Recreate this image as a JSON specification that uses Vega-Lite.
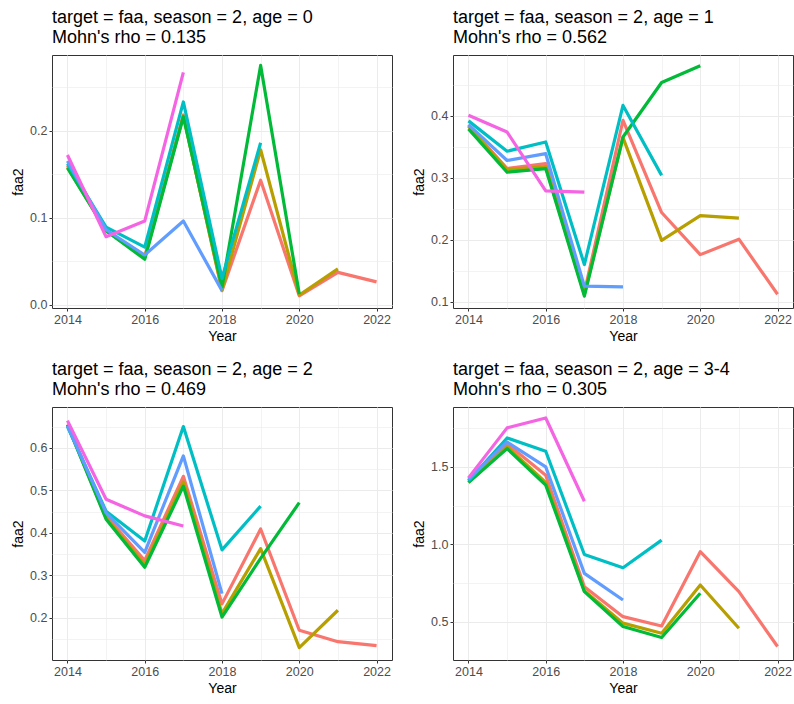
{
"$schema": "https://vega.github.io/schema/vega-lite/v6.json",
"padding": {"left": 11, "top": 8, "right": 0, "bottom": 0},
"background": "white",
"datasets": {
"d": [
{"panel":"a0","peel":"2022","year":2014,"faa2":0.160},{"panel":"a0","peel":"2022","year":2015,"faa2":0.085},{"panel":"a0","peel":"2022","year":2016,"faa2":0.055},{"panel":"a0","peel":"2022","year":2017,"faa2":0.218},{"panel":"a0","peel":"2022","year":2018,"faa2":0.016},{"panel":"a0","peel":"2022","year":2019,"faa2":0.143},{"panel":"a0","peel":"2022","year":2020,"faa2":0.010},{"panel":"a0","peel":"2022","year":2021,"faa2":0.037},{"panel":"a0","peel":"2022","year":2022,"faa2":0.026},
{"panel":"a0","peel":"2021","year":2014,"faa2":0.158},{"panel":"a0","peel":"2021","year":2015,"faa2":0.085},{"panel":"a0","peel":"2021","year":2016,"faa2":0.054},{"panel":"a0","peel":"2021","year":2017,"faa2":0.217},{"panel":"a0","peel":"2021","year":2018,"faa2":0.017},{"panel":"a0","peel":"2021","year":2019,"faa2":0.178},{"panel":"a0","peel":"2021","year":2020,"faa2":0.011},{"panel":"a0","peel":"2021","year":2021,"faa2":0.041},
{"panel":"a0","peel":"2020","year":2014,"faa2":0.157},{"panel":"a0","peel":"2020","year":2015,"faa2":0.085},{"panel":"a0","peel":"2020","year":2016,"faa2":0.052},{"panel":"a0","peel":"2020","year":2017,"faa2":0.216},{"panel":"a0","peel":"2020","year":2018,"faa2":0.020},{"panel":"a0","peel":"2020","year":2019,"faa2":0.275},{"panel":"a0","peel":"2020","year":2020,"faa2":0.012},
{"panel":"a0","peel":"2019","year":2014,"faa2":0.162},{"panel":"a0","peel":"2019","year":2015,"faa2":0.089},{"panel":"a0","peel":"2019","year":2016,"faa2":0.066},{"panel":"a0","peel":"2019","year":2017,"faa2":0.233},{"panel":"a0","peel":"2019","year":2018,"faa2":0.030},{"panel":"a0","peel":"2019","year":2019,"faa2":0.186},
{"panel":"a0","peel":"2018","year":2014,"faa2":0.165},{"panel":"a0","peel":"2018","year":2015,"faa2":0.086},{"panel":"a0","peel":"2018","year":2016,"faa2":0.057},{"panel":"a0","peel":"2018","year":2017,"faa2":0.096},{"panel":"a0","peel":"2018","year":2018,"faa2":0.016},
{"panel":"a0","peel":"2017","year":2014,"faa2":0.172},{"panel":"a0","peel":"2017","year":2015,"faa2":0.078},{"panel":"a0","peel":"2017","year":2016,"faa2":0.096},{"panel":"a0","peel":"2017","year":2017,"faa2":0.267},

{"panel":"a1","peel":"2022","year":2014,"faa2":0.385},{"panel":"a1","peel":"2022","year":2015,"faa2":0.315},{"panel":"a1","peel":"2022","year":2016,"faa2":0.323},{"panel":"a1","peel":"2022","year":2017,"faa2":0.115},{"panel":"a1","peel":"2022","year":2018,"faa2":0.393},{"panel":"a1","peel":"2022","year":2019,"faa2":0.244},{"panel":"a1","peel":"2022","year":2020,"faa2":0.176},{"panel":"a1","peel":"2022","year":2021,"faa2":0.201},{"panel":"a1","peel":"2022","year":2022,"faa2":0.112},
{"panel":"a1","peel":"2021","year":2014,"faa2":0.383},{"panel":"a1","peel":"2021","year":2015,"faa2":0.313},{"panel":"a1","peel":"2021","year":2016,"faa2":0.318},{"panel":"a1","peel":"2021","year":2017,"faa2":0.112},{"panel":"a1","peel":"2021","year":2018,"faa2":0.365},{"panel":"a1","peel":"2021","year":2019,"faa2":0.199},{"panel":"a1","peel":"2021","year":2020,"faa2":0.239},{"panel":"a1","peel":"2021","year":2021,"faa2":0.235},
{"panel":"a1","peel":"2020","year":2014,"faa2":0.379},{"panel":"a1","peel":"2020","year":2015,"faa2":0.309},{"panel":"a1","peel":"2020","year":2016,"faa2":0.315},{"panel":"a1","peel":"2020","year":2017,"faa2":0.109},{"panel":"a1","peel":"2020","year":2018,"faa2":0.366},{"panel":"a1","peel":"2020","year":2019,"faa2":0.454},{"panel":"a1","peel":"2020","year":2020,"faa2":0.481},
{"panel":"a1","peel":"2019","year":2014,"faa2":0.392},{"panel":"a1","peel":"2019","year":2015,"faa2":0.343},{"panel":"a1","peel":"2019","year":2016,"faa2":0.358},{"panel":"a1","peel":"2019","year":2017,"faa2":0.160},{"panel":"a1","peel":"2019","year":2018,"faa2":0.417},{"panel":"a1","peel":"2019","year":2019,"faa2":0.304},
{"panel":"a1","peel":"2018","year":2014,"faa2":0.386},{"panel":"a1","peel":"2018","year":2015,"faa2":0.328},{"panel":"a1","peel":"2018","year":2016,"faa2":0.339},{"panel":"a1","peel":"2018","year":2017,"faa2":0.125},{"panel":"a1","peel":"2018","year":2018,"faa2":0.124},
{"panel":"a1","peel":"2017","year":2014,"faa2":0.401},{"panel":"a1","peel":"2017","year":2015,"faa2":0.374},{"panel":"a1","peel":"2017","year":2016,"faa2":0.279},{"panel":"a1","peel":"2017","year":2017,"faa2":0.277},

{"panel":"a2","peel":"2022","year":2014,"faa2":0.655},{"panel":"a2","peel":"2022","year":2015,"faa2":0.440},{"panel":"a2","peel":"2022","year":2016,"faa2":0.335},{"panel":"a2","peel":"2022","year":2017,"faa2":0.533},{"panel":"a2","peel":"2022","year":2018,"faa2":0.233},{"panel":"a2","peel":"2022","year":2019,"faa2":0.409},{"panel":"a2","peel":"2022","year":2020,"faa2":0.171},{"panel":"a2","peel":"2022","year":2021,"faa2":0.144},{"panel":"a2","peel":"2022","year":2022,"faa2":0.135},
{"panel":"a2","peel":"2021","year":2014,"faa2":0.654},{"panel":"a2","peel":"2021","year":2015,"faa2":0.435},{"panel":"a2","peel":"2021","year":2016,"faa2":0.325},{"panel":"a2","peel":"2021","year":2017,"faa2":0.520},{"panel":"a2","peel":"2021","year":2018,"faa2":0.210},{"panel":"a2","peel":"2021","year":2019,"faa2":0.363},{"panel":"a2","peel":"2021","year":2020,"faa2":0.130},{"panel":"a2","peel":"2021","year":2021,"faa2":0.218},
{"panel":"a2","peel":"2020","year":2014,"faa2":0.654},{"panel":"a2","peel":"2020","year":2015,"faa2":0.432},{"panel":"a2","peel":"2020","year":2016,"faa2":0.319},{"panel":"a2","peel":"2020","year":2017,"faa2":0.510},{"panel":"a2","peel":"2020","year":2018,"faa2":0.202},{"panel":"a2","peel":"2020","year":2019,"faa2":0.340},{"panel":"a2","peel":"2020","year":2020,"faa2":0.471},
{"panel":"a2","peel":"2019","year":2014,"faa2":0.650},{"panel":"a2","peel":"2019","year":2015,"faa2":0.451},{"panel":"a2","peel":"2019","year":2016,"faa2":0.381},{"panel":"a2","peel":"2019","year":2017,"faa2":0.650},{"panel":"a2","peel":"2019","year":2018,"faa2":0.360},{"panel":"a2","peel":"2019","year":2019,"faa2":0.463},
{"panel":"a2","peel":"2018","year":2014,"faa2":0.652},{"panel":"a2","peel":"2018","year":2015,"faa2":0.447},{"panel":"a2","peel":"2018","year":2016,"faa2":0.354},{"panel":"a2","peel":"2018","year":2017,"faa2":0.581},{"panel":"a2","peel":"2018","year":2018,"faa2":0.257},
{"panel":"a2","peel":"2017","year":2014,"faa2":0.664},{"panel":"a2","peel":"2017","year":2015,"faa2":0.479},{"panel":"a2","peel":"2017","year":2016,"faa2":0.440},{"panel":"a2","peel":"2017","year":2017,"faa2":0.416},

{"panel":"a34","peel":"2022","year":2014,"faa2":1.410},{"panel":"a34","peel":"2022","year":2015,"faa2":1.650},{"panel":"a34","peel":"2022","year":2016,"faa2":1.446},{"panel":"a34","peel":"2022","year":2017,"faa2":0.726},{"panel":"a34","peel":"2022","year":2018,"faa2":0.532},{"panel":"a34","peel":"2022","year":2019,"faa2":0.472},{"panel":"a34","peel":"2022","year":2020,"faa2":0.952},{"panel":"a34","peel":"2022","year":2021,"faa2":0.694},{"panel":"a34","peel":"2022","year":2022,"faa2":0.339},
{"panel":"a34","peel":"2021","year":2014,"faa2":1.400},{"panel":"a34","peel":"2021","year":2015,"faa2":1.630},{"panel":"a34","peel":"2021","year":2016,"faa2":1.400},{"panel":"a34","peel":"2021","year":2017,"faa2":0.700},{"panel":"a34","peel":"2021","year":2018,"faa2":0.490},{"panel":"a34","peel":"2021","year":2019,"faa2":0.425},{"panel":"a34","peel":"2021","year":2020,"faa2":0.737},{"panel":"a34","peel":"2021","year":2021,"faa2":0.457},
{"panel":"a34","peel":"2020","year":2014,"faa2":1.399},{"panel":"a34","peel":"2020","year":2015,"faa2":1.618},{"panel":"a34","peel":"2020","year":2016,"faa2":1.382},{"panel":"a34","peel":"2020","year":2017,"faa2":0.694},{"panel":"a34","peel":"2020","year":2018,"faa2":0.468},{"panel":"a34","peel":"2020","year":2019,"faa2":0.397},{"panel":"a34","peel":"2020","year":2020,"faa2":0.683},
{"panel":"a34","peel":"2019","year":2014,"faa2":1.410},{"panel":"a34","peel":"2019","year":2015,"faa2":1.687},{"panel":"a34","peel":"2019","year":2016,"faa2":1.601},{"panel":"a34","peel":"2019","year":2017,"faa2":0.934},{"panel":"a34","peel":"2019","year":2018,"faa2":0.848},{"panel":"a34","peel":"2019","year":2019,"faa2":1.027},
{"panel":"a34","peel":"2018","year":2014,"faa2":1.420},{"panel":"a34","peel":"2018","year":2015,"faa2":1.661},{"panel":"a34","peel":"2018","year":2016,"faa2":1.500},{"panel":"a34","peel":"2018","year":2017,"faa2":0.812},{"panel":"a34","peel":"2018","year":2018,"faa2":0.640},
{"panel":"a34","peel":"2017","year":2014,"faa2":1.429},{"panel":"a34","peel":"2017","year":2015,"faa2":1.752},{"panel":"a34","peel":"2017","year":2016,"faa2":1.816},{"panel":"a34","peel":"2017","year":2017,"faa2":1.278}
]
},
"data": {"name": "d"},
"columns": 2,
"bounds": "flush",
"spacing": {"row": 99, "column": 61},
"concat": [
{
"width": 340, "height": 253,
"title": {"text": ["target = faa, season = 2, age = 0", "Mohn's rho = 0.135"]},
"transform": [{"filter": "datum.panel == 'a0'"}],
"mark": {"type": "line", "strokeWidth": 3.2, "strokeJoin": "round"},
"encoding": {
"x": {"field": "year", "type": "quantitative", "scale": {"domain": [2013.6, 2022.4], "nice": false, "zero": false},
"axis": {"title": "Year", "values": [2014,2015,2016,2017,2018,2019,2020,2021,2022], "format": "d", "labelExpr": "datum.value % 2 == 0 ? datum.label : ''", "tickOpacity": {"condition": {"test": "datum.value % 2 == 0", "value": 1}, "value": 0}, "gridWidth": {"condition": {"test": "datum.value % 2 == 0", "value": 1}, "value": 0.6}}},
"y": {"field": "faa2", "type": "quantitative", "scale": {"domain": [-0.004, 0.287], "nice": false, "zero": false},
"axis": {"title": "faa2", "values": [0,0.05,0.1,0.15,0.2,0.25], "labelExpr": "abs(datum.value*10 - round(datum.value*10)) < 0.001 ? format(datum.value, '.1f') : ''", "tickOpacity": {"condition": {"test": "abs(datum.value*10 - round(datum.value*10)) < 0.001", "value": 1}, "value": 0}, "gridWidth": {"condition": {"test": "abs(datum.value*10 - round(datum.value*10)) < 0.001", "value": 1}, "value": 0.6}}},
"color": {"field": "peel", "type": "nominal", "legend": null, "scale": {"domain": ["2022","2021","2020","2019","2018","2017"], "range": ["#F8766D","#B79F00","#00BA38","#00BFC4","#619CFF","#F564E3"]}}
}
},
{
"width": 340, "height": 253,
"title": {"text": ["target = faa, season = 2, age = 1", "Mohn's rho = 0.562"]},
"transform": [{"filter": "datum.panel == 'a1'"}],
"mark": {"type": "line", "strokeWidth": 3.2, "strokeJoin": "round"},
"encoding": {
"x": {"field": "year", "type": "quantitative", "scale": {"domain": [2013.6, 2022.4], "nice": false, "zero": false},
"axis": {"title": "Year", "values": [2014,2015,2016,2017,2018,2019,2020,2021,2022], "format": "d", "labelExpr": "datum.value % 2 == 0 ? datum.label : ''", "tickOpacity": {"condition": {"test": "datum.value % 2 == 0", "value": 1}, "value": 0}, "gridWidth": {"condition": {"test": "datum.value % 2 == 0", "value": 1}, "value": 0.6}}},
"y": {"field": "faa2", "type": "quantitative", "scale": {"domain": [0.0898, 0.4984], "nice": false, "zero": false},
"axis": {"title": "faa2", "values": [0.1,0.15,0.2,0.25,0.3,0.35,0.4,0.45], "labelExpr": "abs(datum.value*10 - round(datum.value*10)) < 0.001 ? format(datum.value, '.1f') : ''", "tickOpacity": {"condition": {"test": "abs(datum.value*10 - round(datum.value*10)) < 0.001", "value": 1}, "value": 0}, "gridWidth": {"condition": {"test": "abs(datum.value*10 - round(datum.value*10)) < 0.001", "value": 1}, "value": 0.6}}},
"color": {"field": "peel", "type": "nominal", "legend": null, "scale": {"domain": ["2022","2021","2020","2019","2018","2017"], "range": ["#F8766D","#B79F00","#00BA38","#00BFC4","#619CFF","#F564E3"]}}
}
},
{
"width": 340, "height": 253,
"title": {"text": ["target = faa, season = 2, age = 2", "Mohn's rho = 0.469"]},
"transform": [{"filter": "datum.panel == 'a2'"}],
"mark": {"type": "line", "strokeWidth": 3.2, "strokeJoin": "round"},
"encoding": {
"x": {"field": "year", "type": "quantitative", "scale": {"domain": [2013.6, 2022.4], "nice": false, "zero": false},
"axis": {"title": "Year", "values": [2014,2015,2016,2017,2018,2019,2020,2021,2022], "format": "d", "labelExpr": "datum.value % 2 == 0 ? datum.label : ''", "tickOpacity": {"condition": {"test": "datum.value % 2 == 0", "value": 1}, "value": 0}, "gridWidth": {"condition": {"test": "datum.value % 2 == 0", "value": 1}, "value": 0.6}}},
"y": {"field": "faa2", "type": "quantitative", "scale": {"domain": [0.101, 0.696], "nice": false, "zero": false},
"axis": {"title": "faa2", "values": [0.15,0.2,0.25,0.3,0.35,0.4,0.45,0.5,0.55,0.6,0.65], "labelExpr": "abs(datum.value*10 - round(datum.value*10)) < 0.001 ? format(datum.value, '.1f') : ''", "tickOpacity": {"condition": {"test": "abs(datum.value*10 - round(datum.value*10)) < 0.001", "value": 1}, "value": 0}, "gridWidth": {"condition": {"test": "abs(datum.value*10 - round(datum.value*10)) < 0.001", "value": 1}, "value": 0.6}}},
"color": {"field": "peel", "type": "nominal", "legend": null, "scale": {"domain": ["2022","2021","2020","2019","2018","2017"], "range": ["#F8766D","#B79F00","#00BA38","#00BFC4","#619CFF","#F564E3"]}}
}
},
{
"width": 340, "height": 253,
"title": {"text": ["target = faa, season = 2, age = 3-4", "Mohn's rho = 0.305"]},
"transform": [{"filter": "datum.panel == 'a34'"}],
"mark": {"type": "line", "strokeWidth": 3.2, "strokeJoin": "round"},
"encoding": {
"x": {"field": "year", "type": "quantitative", "scale": {"domain": [2013.6, 2022.4], "nice": false, "zero": false},
"axis": {"title": "Year", "values": [2014,2015,2016,2017,2018,2019,2020,2021,2022], "format": "d", "labelExpr": "datum.value % 2 == 0 ? datum.label : ''", "tickOpacity": {"condition": {"test": "datum.value % 2 == 0", "value": 1}, "value": 0}, "gridWidth": {"condition": {"test": "datum.value % 2 == 0", "value": 1}, "value": 0.6}}},
"y": {"field": "faa2", "type": "quantitative", "scale": {"domain": [0.252, 1.887], "nice": false, "zero": false},
"axis": {"title": "faa2", "values": [0.5,0.75,1.0,1.25,1.5,1.75], "labelExpr": "abs(datum.value*2 - round(datum.value*2)) < 0.001 ? format(datum.value, '.1f') : ''", "tickOpacity": {"condition": {"test": "abs(datum.value*2 - round(datum.value*2)) < 0.001", "value": 1}, "value": 0}, "gridWidth": {"condition": {"test": "abs(datum.value*2 - round(datum.value*2)) < 0.001", "value": 1}, "value": 0.6}}},
"color": {"field": "peel", "type": "nominal", "legend": null, "scale": {"domain": ["2022","2021","2020","2019","2018","2017"], "range": ["#F8766D","#B79F00","#00BA38","#00BFC4","#619CFF","#F564E3"]}}
}
}
],
"resolve": {"scale": {"x": "independent", "y": "independent"}},
"config": {
"font": "Liberation Sans",
"view": {"stroke": "#333333", "strokeWidth": 1},
"axis": {"domain": false, "tickColor": "#333333", "tickSize": 3, "labelPadding": 2, "labelColor": "#4D4D4D", "labelFontSize": 12.5, "labelFont": "Liberation Sans", "titleFont": "Liberation Sans", "titleFontSize": 14, "titleFontWeight": "normal", "titleColor": "#000000", "gridColor": "#EBEBEB", "labelFlush": false, "labelOverlap": false},
"axisX": {"titlePadding": 4},
"axisY": {"titlePadding": 4},
"title": {"fontSize": 18, "fontWeight": "normal", "anchor": "start", "frame": "group", "color": "#000000", "font": "Liberation Sans", "offset": 8, "lineHeight": 20}
}
}
